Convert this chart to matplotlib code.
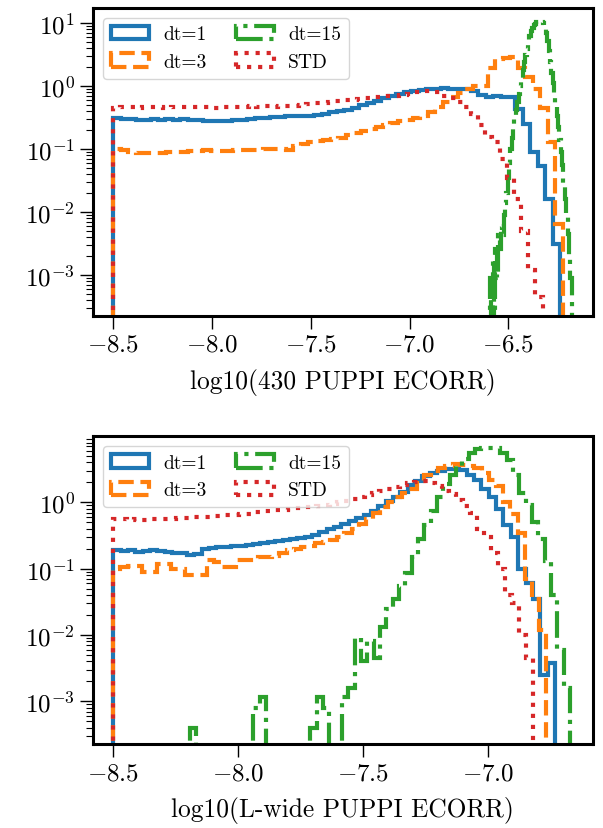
import numpy as np
import matplotlib
matplotlib.use("Agg")
import matplotlib.pyplot as plt

plt.rcParams['font.family'] = 'serif'
plt.rcParams['font.serif'] = ['cmr10']
plt.rcParams['mathtext.fontset'] = 'cm'
plt.rcParams['axes.formatter.use_mathtext'] = True

labels = ['dt=1', 'dt=3', 'dt=15', 'STD']
colors = ['C0', 'C1', 'C2', 'C3']
styles = ['-', '--', '-.', ':']
n_bins = 60

# ---------------- top panel: 430 PUPPI ----------------
top_xlabel = 'log10(430 PUPPI ECORR)'
top_ranges = [(-8.5, -6.238), (-8.5, -6.2245), (-6.593, -6.1795), (-8.5, -6.327)]

top_dt1 = [0.31, 0.30, 0.30, 0.29, 0.29, 0.30, 0.29, 0.30, 0.29, 0.30,
           0.29, 0.29, 0.28, 0.28, 0.28, 0.28, 0.29, 0.29, 0.30, 0.31,
           0.31, 0.32, 0.32, 0.33, 0.33, 0.34, 0.34, 0.35, 0.36, 0.38,
           0.40, 0.42, 0.45, 0.50, 0.54, 0.58, 0.64, 0.70, 0.74, 0.79,
           0.84, 0.87, 0.89, 0.91, 0.92, 0.91, 0.91, 0.88, 0.83, 0.72,
           0.66, 0.69, 0.68, 0.66, 0.43, 0.247, 0.088, 0.053, 0.016, 0.0031]

top_dt3 = [0.099, 0.095, 0.088, 0.085, 0.087, 0.085, 0.086, 0.088, 0.090, 0.091,
           0.092, 0.093, 0.095, 0.093, 0.094, 0.092, 0.095, 0.097, 0.098, 0.097,
           0.099, 0.100, 0.100, 0.098, 0.110, 0.122, 0.130, 0.135, 0.140, 0.145,
           0.150, 0.165, 0.180, 0.190, 0.205, 0.220, 0.240, 0.260, 0.275, 0.290,
           0.310, 0.330, 0.380, 0.470, 0.560, 0.680, 0.780, 0.900, 1.00, 1.00,
           1.95, 2.65, 2.80, 2.85, 1.90, 1.40, 0.90, 0.45, 0.13, 0.0065]

top_dt15 = [0.0009, 0.0, 0.0017, 0.0, 0.0026, 0.0009, 0.0043, 0.0026, 0.006, 0.0043,
            0.009, 0.014, 0.02, 0.035, 0.06, 0.10, 0.15, 0.22, 0.30, 0.42,
            0.55, 0.75, 1.0, 1.35, 1.8, 2.4, 3.1, 3.9, 5.0, 6.2,
            7.4, 8.4, 9.2, 9.8, 10.2, 10.5, 10.7, 10.7, 10.5, 10.1,
            8.6, 7.0, 5.2, 3.6, 2.4, 1.6, 1.1, 0.75, 0.5, 0.33,
            0.22, 0.14, 0.09, 0.055, 0.028, 0.016, 0.009, 0.0045, 0.002, 0.0009]

top_std = [0.45, 0.46, 0.47, 0.45, 0.46, 0.46, 0.47, 0.45, 0.46, 0.46,
           0.47, 0.46, 0.47, 0.46, 0.45, 0.46, 0.47, 0.46, 0.47, 0.48,
           0.47, 0.48, 0.47, 0.48, 0.49, 0.49, 0.50, 0.52, 0.53, 0.53,
           0.55, 0.57, 0.59, 0.61, 0.62, 0.64, 0.66, 0.68, 0.69, 0.70,
           0.72, 0.76, 0.80, 0.83, 0.84, 0.80, 0.70, 0.64, 0.55, 0.46,
           0.36, 0.24, 0.155, 0.13, 0.07, 0.035, 0.016, 0.005, 0.0012, 0.00045]

# ---------------- bottom panel: L-wide PUPPI ----------------
bot_xlabel = 'log10(L-wide PUPPI ECORR)'
bot_ranges = [(-8.5, -6.733), (-8.5, -6.767), (-8.193, -6.673), (-8.5, -6.821)]

bot_dt1 = [0.19, 0.185, 0.19, 0.18, 0.185, 0.19, 0.185, 0.18, 0.175, 0.175,
           0.16, 0.165, 0.20, 0.205, 0.21, 0.215, 0.22, 0.22, 0.23, 0.235,
           0.245, 0.25, 0.26, 0.27, 0.28, 0.29, 0.30, 0.32, 0.36, 0.39,
           0.43, 0.47, 0.52, 0.58, 0.65, 0.75, 0.88, 1.05, 1.20, 1.45,
           1.80, 2.10, 2.50, 2.75, 2.97, 3.15, 3.20, 3.10, 2.60, 2.20,
           1.60, 1.20, 0.80, 0.46, 0.30, 0.10, 0.06, 0.035, 0.0025, 0.0038]

bot_dt3 = [0.100, 0.106, 0.11, 0.11, 0.088, 0.088, 0.117, 0.117, 0.10, 0.10,
           0.08, 0.08, 0.08, 0.135, 0.125, 0.106, 0.106, 0.135, 0.135, 0.135,
           0.15, 0.15, 0.155, 0.17, 0.19, 0.20, 0.21, 0.22, 0.24, 0.25,
           0.27, 0.30, 0.34, 0.40, 0.48, 0.57, 0.70, 0.85, 1.0, 1.2,
           1.4, 1.6, 2.1, 2.6, 3.0, 3.3, 3.6, 3.8, 3.7, 3.5,
           3.3, 2.8, 2.2, 1.75, 1.0, 0.66, 0.35, 0.07, 0.035, 0.0117]

bot_dt15 = [0.00039, 0.0, 0.0, 0.0, 0.0, 0.0, 0.0, 0.0, 0.0, 0.0,
            0.00078, 0.00117, 0.0, 0.0, 0.0, 0.0, 0.0, 0.0, 0.0, 0.00039,
            0.00117, 0.00078, 0.0, 0.0, 0.00117, 0.0016, 0.009, 0.004, 0.008, 0.0045,
            0.013, 0.025, 0.035, 0.055, 0.085, 0.15, 0.28, 0.45, 0.75, 1.2,
            1.9, 2.6, 3.6, 4.5, 5.5, 6.3, 6.6, 6.7, 6.6, 5.5,
            4.3, 2.6, 1.4, 0.9, 0.5, 0.28, 0.13, 0.04, 0.006, 0.0016]

bot_std = [0.56, 0.56, 0.55, 0.56, 0.55, 0.57, 0.56, 0.57, 0.57, 0.58,
           0.58, 0.60, 0.60, 0.60, 0.62, 0.62, 0.64, 0.65, 0.66, 0.67,
           0.72, 0.73, 0.75, 0.77, 0.78, 0.80, 0.82, 0.84, 0.86, 0.88,
           0.90, 0.95, 1.00, 1.05, 1.12, 1.20, 1.30, 1.37, 1.50, 1.60,
           1.70, 1.85, 1.95, 2.05, 2.10, 1.95, 1.75, 1.50, 1.32, 1.10,
           0.87, 0.68, 0.40, 0.30, 0.17, 0.10, 0.04, 0.03, 0.010, 0.0045]

top_series = [top_dt1, top_dt3, top_dt15, top_std]
bot_series = [bot_dt1, bot_dt3, bot_dt15, bot_std]

top_xticks = [-8.5, -8.0, -7.5, -7.0, -6.5]
bot_xticks = [-8.5, -8.0, -7.5, -7.0]

W, H = 603, 829
fig = plt.figure(figsize=(W / 100, H / 100), dpi=100)
ax1 = fig.add_axes([93 / W, 1 - 316.7 / H, 499.5 / W, 307.7 / H])
ax2 = fig.add_axes([93 / W, 1 - 745 / H, 499.5 / W, 307.7 / H])


def draw(ax, series, ranges, xlim, ylim, xticks, xlabel):
    for vals, rng, lab, col, ls in zip(series, ranges, labels, colors, styles):
        edges = np.linspace(rng[0], rng[1], n_bins + 1)
        ax.hist(edges[:-1], bins=edges, weights=vals, histtype='step',
                log=True, color=col, ls=ls, lw=3, label=lab)
    ax.set_yscale('log', nonpositive='clip')
    ax.set_xlim(*xlim)
    ax.set_ylim(*ylim)
    ax.set_xticks(xticks)
    ax.tick_params(axis='both', which='major', labelsize=18, length=9.5,
                   width=1.0, direction='out')
    ax.tick_params(axis='y', which='minor', length=5, width=0.8)
    ax.tick_params(axis='x', which='minor', bottom=False)
    for s in ax.spines.values():
        s.set_linewidth(2.2)
    ax.set_xlabel(xlabel, fontsize=18.3, labelpad=8.5)
    ax.legend(loc='upper left', ncol=2, fontsize=14, columnspacing=1.5,
              handletextpad=0.7)


draw(ax1, top_series, top_ranges, (-8.603, -6.074), (10 ** -3.646, 10 ** 1.238),
     top_xticks, top_xlabel)
draw(ax2, bot_series, bot_ranges, (-8.581, -6.583), (10 ** -3.645, 10 ** 0.997),
     bot_xticks, bot_xlabel)

fig.savefig('out.png', dpi=100)
